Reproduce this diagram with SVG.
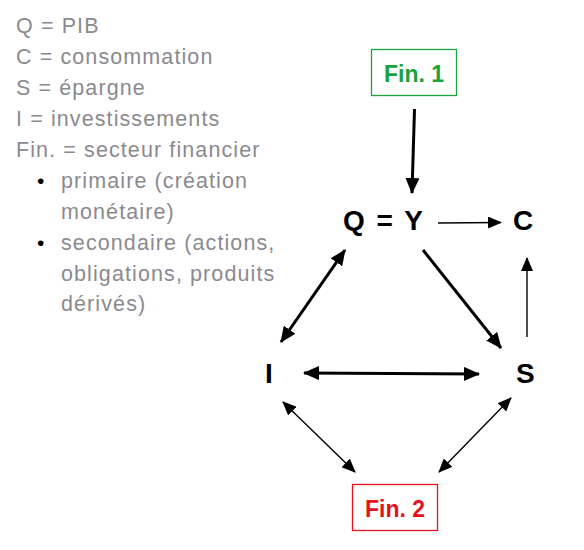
<svg xmlns="http://www.w3.org/2000/svg" width="584" height="550" viewBox="0 0 584 550">
<style>
.legend{font-family:"Liberation Sans",Arial,sans-serif;font-size:21.5px;fill:#8b8a8f;letter-spacing:1.1px}
.bullet{font-family:"Liberation Sans",Arial,sans-serif;font-size:21px;fill:#000}
.node{font-family:"Liberation Sans",Arial,sans-serif;font-size:28px;font-weight:bold;fill:#000;letter-spacing:2px}
.fin{font-family:"Liberation Sans",Arial,sans-serif;font-size:23px;font-weight:bold}
.thick{stroke:#000;stroke-width:3;fill:none}
.thin{stroke:#000;stroke-width:1.4;fill:none}
</style>
<defs>
<marker id="ah" markerUnits="userSpaceOnUse" markerWidth="16" markerHeight="14" refX="15" refY="7" orient="auto-start-reverse" viewBox="0 0 16 14">
<path d="M0,0 L16,7 L0,14 Z" fill="#000"/>
</marker>
<marker id="ahs" markerUnits="userSpaceOnUse" markerWidth="14" markerHeight="12" refX="13" refY="6" orient="auto-start-reverse" viewBox="0 0 14 12">
<path d="M0,0 L14,6 L0,12 Z" fill="#000"/>
</marker>
</defs>
<rect width="584" height="550" fill="#fff"/>
<g id="legend">
<text class="legend" x="16" y="33">Q = PIB</text>
<text class="legend" x="16" y="64">C = consommation</text>
<text class="legend" x="16" y="95">S = épargne</text>
<text class="legend" x="16" y="126">I = investissements</text>
<text class="legend" x="16" y="157">Fin. = secteur financier</text>
<text class="bullet" x="37" y="188">•</text>
<text class="legend" x="61" y="188">primaire (création</text>
<text class="legend" x="61" y="219">monétaire)</text>
<text class="bullet" x="37" y="250">•</text>
<text class="legend" x="61" y="250">secondaire (actions,</text>
<text class="legend" x="61" y="281">obligations, produits</text>
<text class="legend" x="61" y="311">dérivés)</text>
</g>
<g id="fin1">
<rect x="371.5" y="49.5" width="85" height="46" fill="#fff" stroke="#1aa33a" stroke-width="1.3"/>
<text class="fin" x="414" y="82" text-anchor="middle" fill="#1aa33a">Fin. 1</text>
</g>
<g id="qy"><text class="node" x="343" y="230">Q = Y</text></g>
<g id="c"><text class="node" x="513" y="230">C</text></g>
<g id="i"><text class="node" x="265" y="383">I</text></g>
<g id="s"><text class="node" x="516" y="383">S</text></g>
<g id="fin2">
<rect x="352.5" y="484.5" width="85" height="46" fill="#fff" stroke="#e8111b" stroke-width="1.3"/>
<text class="fin" x="395" y="517" text-anchor="middle" fill="#e8111b">Fin. 2</text>
</g>
<g id="connectors">
<line class="thick" x1="414.5" y1="109" x2="412" y2="193" marker-end="url(#ah)"/>
<line class="thin" x1="438" y1="223" x2="501" y2="222.5" marker-end="url(#ahs)"/>
<line class="thick" x1="345" y1="250" x2="281" y2="342" marker-start="url(#ah)" marker-end="url(#ah)"/>
<line class="thick" x1="423" y1="250" x2="501" y2="348" marker-end="url(#ah)"/>
<line class="thin" x1="527" y1="337" x2="527" y2="258" marker-end="url(#ahs)"/>
<line class="thick" x1="304" y1="373" x2="479" y2="374" marker-start="url(#ah)" marker-end="url(#ah)"/>
<line class="thin" x1="283" y1="402" x2="355" y2="472" marker-start="url(#ahs)" marker-end="url(#ahs)"/>
<line class="thin" x1="511" y1="398" x2="439" y2="472" marker-start="url(#ahs)" marker-end="url(#ahs)"/>
</g>
</svg>
